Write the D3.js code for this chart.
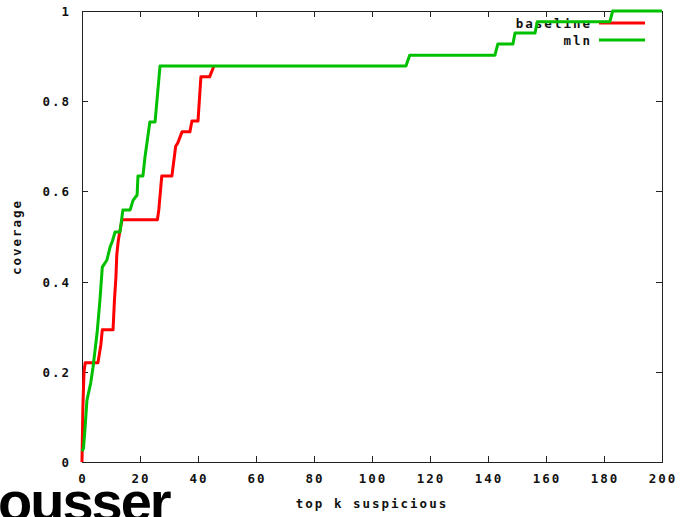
<!DOCTYPE html>
<html>
<head>
<meta charset="utf-8">
<script src="https://cdn.jsdelivr.net/npm/d3@7"></script>
<style>
	body { margin: 0; background: #fff; overflow: hidden; }
	text { font-family: "DejaVu Sans Mono", monospace; font-size: 12.5px; font-weight: bold; letter-spacing: 2px; fill: #111; }
</style>
</head>
<body>
<div id="chart"></div>
<script>
// step points (k, coverage)
const baselineK   = [0, 0.3, 0.7, 1.1, 5.5, 6.5, 7, 10.7, 11.2, 11.7, 12, 12.5, 13, 13.8, 26, 26.5, 27.5, 31, 32.3, 33, 34.5, 37.2, 37.9, 40, 41, 44, 45.5]
const baselineCov = [0, 0.12, 0.2, 0.22, 0.22, 0.26, 0.293, 0.293, 0.36, 0.41, 0.46, 0.49, 0.51, 0.537, 0.537, 0.56, 0.634, 0.634, 0.70, 0.707, 0.732, 0.732, 0.756, 0.756, 0.854, 0.854, 0.878]

const mlnK   = [0, 0.5, 1, 1.7, 3, 3.8, 5.2, 6.2, 7, 8.6, 9.7, 10.5, 11.4, 13.1, 14.1, 16.6, 17.6, 19, 19.3, 21, 21.7, 23.4, 25.2, 26.9, 111.7, 113, 142.4, 143.4, 148.6, 149.3, 156.2, 157, 182, 183, 200]
const mlnCov = [0.024, 0.03, 0.07, 0.137, 0.175, 0.21, 0.286, 0.36, 0.432, 0.448, 0.477, 0.49, 0.51, 0.51, 0.559, 0.559, 0.58, 0.592, 0.634, 0.634, 0.675, 0.754, 0.754, 0.878, 0.878, 0.902, 0.902, 0.927, 0.927, 0.951, 0.951, 0.976, 0.976, 1, 1]

const xTicks = [0, 20, 40, 60, 80, 100, 120, 140, 160, 180, 200]
const yTicks = [0, 0.2, 0.4, 0.6, 0.8, 1]
const seriesNames = ['baseline', 'mln']
const seriesColors = ['#ff0000', '#00c000']

const width = 683, height = 517
const margin = { top: 11, right: 21, bottom: 55, left: 82 }

let svg = d3.select('#chart')
	.append('svg')
	.attr('width', width)
	.attr('height', height)

let xScale = d3.scaleLinear()
	.domain([0, 200])
	.range([margin.left, width - margin.right])

let yScale = d3.scaleLinear()
	.domain([0, 1])
	.range([height - margin.bottom, margin.top])

const fmt = d => d === 0 || d === 1 ? String(d) : d3.format('.1f')(d)

// gnuplot style: inward ticks on all four sides
svg.append('g')
	.attr('transform', `translate(0,${yScale(0)})`)
	.call(d3.axisBottom(xScale).tickValues(xTicks).tickSize(-6).tickFormat(''))
svg.append('g')
	.attr('transform', `translate(0,${yScale(1)})`)
	.call(d3.axisTop(xScale).tickValues(xTicks).tickSize(-6).tickFormat(''))
svg.append('g')
	.attr('transform', `translate(${xScale(0)},0)`)
	.call(d3.axisLeft(yScale).tickValues(yTicks).tickSize(-6).tickFormat(''))
svg.append('g')
	.attr('transform', `translate(${xScale(200)},0)`)
	.call(d3.axisRight(yScale).tickValues(yTicks).tickSize(-6).tickFormat(''))

svg.selectAll('.domain').remove()
svg.selectAll('.tick line').attr('stroke', '#222').attr('shape-rendering', 'crispEdges')

svg.append('rect')
	.attr('x', xScale(0))
	.attr('y', yScale(1))
	.attr('width', xScale(200) - xScale(0))
	.attr('height', yScale(0) - yScale(1))
	.attr('fill', 'none')
	.attr('stroke', '#222')
	.attr('shape-rendering', 'crispEdges')

// tick labels
svg.selectAll('.xlab')
	.data(xTicks)
	.join('text')
	.attr('class', 'xlab')
	.attr('x', d => xScale(d) + 1)
	.attr('y', yScale(0) + 21)
	.attr('text-anchor', 'middle')
	.text(d => d)

svg.selectAll('.ylab')
	.data(yTicks)
	.join('text')
	.attr('class', 'ylab')
	.attr('x', xScale(0) - 11)
	.attr('y', d => yScale(d) + 5)
	.attr('text-anchor', 'end')
	.text(fmt)

svg.append('text')
	.attr('x', 372)
	.attr('y', 508)
	.attr('text-anchor', 'middle')
	.text('top k suspicious')

svg.append('text')
	.attr('transform', 'translate(21,237) rotate(-90)')
	.attr('text-anchor', 'middle')
	.text('coverage')

// legend
seriesNames.forEach((name, i) => {
	const ly = 23 + i * 17
	svg.append('text')
		.attr('x', 592)
		.attr('y', ly + 5)
		.attr('text-anchor', 'end')
		.text(name)
	svg.append('line')
		.attr('x1', 599).attr('x2', 645)
		.attr('y1', ly).attr('y2', ly)
		.attr('stroke', seriesColors[i])
		.attr('stroke-width', 3)
})

// curves
const line = d3.line()
	.x(d => xScale(d[0]))
	.y(d => yScale(d[1]))

const series = [
	d3.zip(baselineK, baselineCov),
	d3.zip(mlnK, mlnCov)
]

series.forEach((pts, i) => {
	svg.append('path')
		.datum(pts)
		.attr('d', line)
		.attr('fill', 'none')
		.attr('stroke', seriesColors[i])
		.attr('stroke-width', 3)
		.attr('stroke-linejoin', 'round')
})

// fragment of a heading cut off at the bottom edge
svg.append('text')
	.attr('x', -2)
	.attr('y', 521)
	.style('font-family', '"Liberation Sans", Arial, sans-serif')
	.style('font-weight', 'bold')
	.style('font-size', '56px')
	.style('letter-spacing', '-2px')
	.style('fill', '#000')
	.text('ousser')
</script>
</body>
</html>
